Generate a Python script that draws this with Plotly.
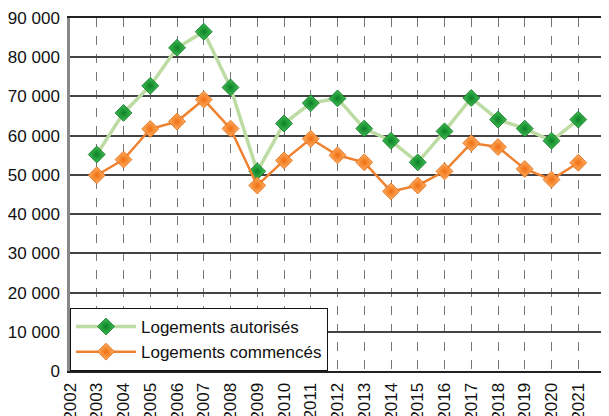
import plotly.graph_objects as go

years = list(range(2003, 2022))
autorises = [55200, 65800, 72700, 82400, 86500, 72300, 50900, 63100, 68300, 69500,
             61800, 58700, 53200, 61100, 69600, 64100, 61800, 58700, 64100]
commences = [49900, 53900, 61700, 63600, 69200, 61800, 47300, 53700, 59200, 55000,
             53200, 45800, 47300, 50900, 58100, 57100, 51500, 48800, 53100]

x_ticks = list(range(2002, 2023))
x_ticktext = [str(y) for y in x_ticks]
y_ticks = [0, 10000, 20000, 30000, 40000, 50000, 60000, 70000, 80000, 90000]
y_ticktext = ["0", "10 000", "20 000", "30 000", "40 000", "50 000",
              "60 000", "70 000", "80 000", "90 000"]

FONT = "Liberation Sans, Arial, sans-serif"

fig = go.Figure()
fig.add_trace(go.Scatter(
    x=years, y=autorises, name="Logements autorisés", mode="lines+markers",
    line=dict(color="#bddca3", width=3.5),
    marker=dict(symbol="diamond", size=13, color="#3fc052",
                gradient=dict(type="radial", color="#0d7f27"),
                line=dict(color="#0b6e23", width=0.8)),
))
fig.add_trace(go.Scatter(
    x=years, y=commences, name="Logements commencés", mode="lines+markers",
    line=dict(color="#ef8230", width=2.5),
    marker=dict(symbol="diamond", size=13, color="#ffb163",
                gradient=dict(type="radial", color="#f06e12"),
                line=dict(color="#e0660e", width=0.8)),
))

# The page body has an 8px margin, so the figure is sized to fit the window.
fig.update_layout(
    width=601, height=408,
    margin=dict(l=62, r=4, t=10, b=45),
    paper_bgcolor="white", plot_bgcolor="white",
    font=dict(family=FONT, size=17, color="#111"),
    showlegend=True,
    legend=dict(x=0, y=0, xanchor="left", yanchor="bottom",
                bgcolor="white", bordercolor="#111", borderwidth=1,
                font=dict(size=17), itemwidth=60, tracegroupgap=0,
                traceorder="normal"),
    xaxis=dict(range=[2002, 2022], tickvals=x_ticks, ticktext=x_ticktext,
               tickangle=-90, showgrid=True, gridcolor="#777", griddash="dash",
               gridwidth=1, showline=True, linecolor="#222", linewidth=2,
               mirror=True, ticks="", ticklen=0, zeroline=False,
               ticklabelstandoff=3, automargin=False),
    yaxis=dict(range=[0, 90000], tickvals=y_ticks, ticktext=y_ticktext,
               showgrid=True, gridcolor="#444", gridwidth=1.5,
               showline=True, linecolor="#888", linewidth=2.5, mirror=True,
               ticks="", ticklen=0, zeroline=False, ticklabelstandoff=4,
               automargin=False),
)

fig.write_html("out.html")
